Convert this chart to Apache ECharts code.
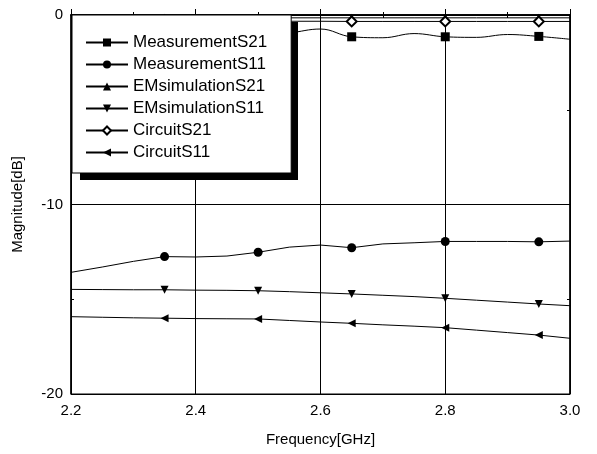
<!DOCTYPE html>
<html>
  <head>
    <meta charset="utf-8">
    <title></title>
    <style media="screen">
    html, body {margin:0; padding:0; background:#fff}
    #chart {width:597px; height:454px}
    </style>
    <script src="https://cdn.jsdelivr.net/npm/echarts@6/dist/echarts.min.js" charset="utf-8"></script>
    <script>
    // frequency points [GHz]
    const freq=[2.2, 2.25, 2.3, 2.35, 2.4, 2.45, 2.5, 2.55, 2.6, 2.65, 2.7, 2.75, 2.8, 2.85, 2.9, 2.95, 3.0];
    // frequencies where a marker is drawn
    const markerFreq=[2.35, 2.5, 2.65, 2.8, 2.95];

    const measS21=[-1.0, -0.85, -0.95, -1.15, -1.1, -0.9, -1.1, -0.95, -0.74, -1.15, -1.2, -0.98, -1.15, -1.18, -1.03, -1.13, -1.28];
    const measS11=[-13.58, -13.3, -13.0, -12.75, -12.77, -12.72, -12.52, -12.25, -12.14, -12.28, -12.08, -12.02, -11.95, -11.95, -11.95, -11.97, -11.93];
    const emS21=[-0.15, -0.15, -0.15, -0.15, -0.15, -0.15, -0.15, -0.15, -0.15, -0.15, -0.15, -0.15, -0.15, -0.15, -0.15, -0.15, -0.15];
    const emS11=[-14.48, -14.49, -14.5, -14.5, -14.52, -14.53, -14.55, -14.6, -14.66, -14.72, -14.79, -14.86, -14.95, -15.05, -15.15, -15.25, -15.34];
    const cirS21=[-0.33, -0.33, -0.33, -0.33, -0.33, -0.33, -0.33, -0.33, -0.33, -0.34, -0.34, -0.34, -0.34, -0.34, -0.34, -0.34, -0.34];
    const cirS11=[-15.92, -15.95, -15.98, -16.0, -16.02, -16.03, -16.04, -16.12, -16.2, -16.27, -16.35, -16.42, -16.5, -16.63, -16.76, -16.89, -17.06];

    const xTicks=[2.2, 2.4, 2.6, 2.8, 3.0];
    const yTicks=[-20, -10, 0];

    window.onload=function (){
      let chart=echarts.init(document.getElementById('chart'));

      function pts(ys){
        return freq.map((f, i)=>{
          let hasMark=markerFreq.some(m=>Math.abs(m-f)<1e-6);
          return hasMark ? {value: [f, ys[i]]} : {value: [f, ys[i]], symbol: 'none'};
        });
      }

      function line(name, ys, symbol, extra){
        return Object.assign({
          name: name,
          type: 'line',
          data: pts(ys),
          symbol: symbol,
          symbolSize: 8,
          showAllSymbol: true,
          lineStyle: {color: '#000', width: 1},
          itemStyle: {color: '#000'},
          emphasis: {disabled: true},
          animation: false
        }, extra||{});
      }

      let font='"Liberation Sans", Arial, sans-serif';

      // black drop shadow behind the legend box
      let shadow={type: 'rect', left: 80, top: 22, z: 3, silent: true,
        shape: {width: 218, height: 158}, style: {fill: '#000'}};

      let option={
        backgroundColor: '#fff',
        grid: {left: 71, right: 27, top: 15, bottom: 60, show: true, borderColor: '#000', borderWidth: 1},
        graphic: [shadow],
        legend: {
          orient: 'vertical',
          left: 72, top: 15,
          padding: [19, 24, 12, 13],
          itemGap: 5,
          itemWidth: 42,
          itemHeight: 10,
          z: 10,
          backgroundColor: '#fff',
          borderColor: '#000',
          borderWidth: 1,
          textStyle: {fontFamily: font, fontSize: 17, color: '#000'},
          data: ['MeasurementS21', 'MeasurementS11', 'EMsimulationS21', 'EMsimulationS11', 'CircuitS21', 'CircuitS11']
        },
        xAxis: [
          {
            type: 'value', min: 2.2, max: 3.0, interval: 0.2,
            name: 'Frequency[GHz]', nameLocation: 'middle', nameGap: 38,
            nameTextStyle: {fontFamily: font, fontSize: 15, color: '#000'},
            axisLine: {lineStyle: {color: '#000', width: 1.5}},
            axisTick: {inside: true, length: 6, lineStyle: {color: '#000'}},
            minorTick: {show: true, splitNumber: 2, length: 3, lineStyle: {color: '#000'}},
            axisLabel: {fontFamily: font, fontSize: 15, color: '#000', margin: 9,
              formatter: v=>xTicks.find(t=>Math.abs(t-v)<1e-6).toFixed(1)},
            splitLine: {show: true, lineStyle: {color: '#000', width: 1}}
          },
          {
            type: 'value', min: 2.2, max: 3.0, interval: 0.2, position: 'top',
            axisLine: {lineStyle: {color: '#000', width: 1.5}},
            axisTick: {inside: true, length: 6, lineStyle: {color: '#000'}},
            minorTick: {show: true, splitNumber: 2, length: 3, lineStyle: {color: '#000'}},
            axisLabel: {show: false},
            splitLine: {show: false}
          }
        ],
        yAxis: [
          {
            type: 'value', min: -20, max: 0, interval: 10,
            name: 'Magnitude[dB]', nameLocation: 'middle', nameGap: 46,
            nameTextStyle: {fontFamily: font, fontSize: 15, color: '#000'},
            axisLine: {show: true, lineStyle: {color: '#000', width: 1.5}},
            axisTick: {show: true, inside: true, length: 6, lineStyle: {color: '#000'}},
            minorTick: {show: true, splitNumber: 2, length: 3, lineStyle: {color: '#000'}},
            axisLabel: {fontFamily: font, fontSize: 15, color: '#000', margin: 8,
              formatter: v=>String(yTicks.find(t=>Math.abs(t-v)<1e-6))},
            splitLine: {show: true, lineStyle: {color: '#000', width: 1}}
          },
          {
            type: 'value', min: -20, max: 0, interval: 10, position: 'right',
            axisLine: {show: true, lineStyle: {color: '#000', width: 1.5}},
            axisTick: {show: true, inside: true, length: 6, lineStyle: {color: '#000'}},
            minorTick: {show: true, splitNumber: 2, length: 3, lineStyle: {color: '#000'}},
            axisLabel: {show: false},
            splitLine: {show: false}
          }
        ],
        series: [
          line('MeasurementS21', measS21, 'rect', {smooth: 0.4, symbolSize: 9}),
          line('MeasurementS11', measS11, 'circle', {symbolSize: 9}),
          line('EMsimulationS21', emS21, 'triangle'),
          line('EMsimulationS11', emS11, 'triangle', {symbolRotate: 180}),
          line('CircuitS21', cirS21, 'diamond', {symbolSize: 10, itemStyle: {color: '#fff', borderColor: '#000', borderWidth: 2}}),
          line('CircuitS11', cirS11, 'triangle', {symbolRotate: 90})
        ]
      };

      chart.setOption(option);
    };
    </script>
  </head>
  <body>
    <div id="chart"></div>
  </body>
</html>
